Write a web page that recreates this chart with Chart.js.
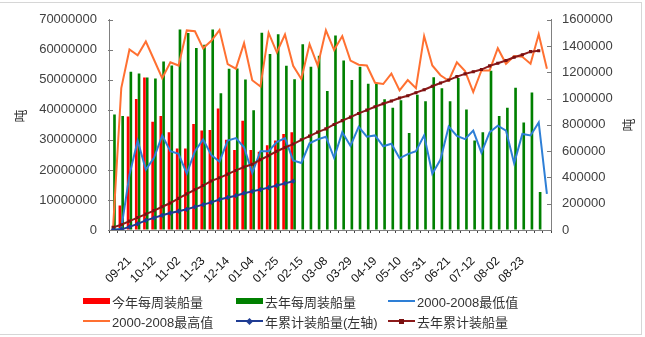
<!DOCTYPE html>
<html>
<head>
<meta charset="utf-8">
<script src="https://cdn.jsdelivr.net/npm/chart.js@4"></script>
<style>
  html, body { margin: 0; padding: 0; background: #fff; }
  #wrap { position: relative; width: 645px; height: 337px; overflow: hidden; }
  #frame { position: absolute; left: -1px; top: 2px; width: 643px; height: 333px; box-sizing: border-box; border: 1px solid #d6d6d6; pointer-events: none; }
  #c { position: absolute; left: 0; top: 0; }
  .lg { position: absolute; height: 16px; display: flex; align-items: center; white-space: nowrap;
        font: 13px 'Liberation Sans', 'Noto Sans CJK SC', sans-serif; color: #333; }
  .sw { position: relative; width: 27px; margin-right: 2px; flex: none; }
  .mk { position: absolute; left: 11px; width: 5px; height: 5px; }
</style>
</head>
<body>
<div id="wrap">
  <canvas id="c" width="645" height="337"></canvas>
  <div id="frame"></div>
</div>
<script>
// Week-ending dates (month-day), one category per week
const weeks = ['09-07','09-14','09-21','09-28','10-05','10-12','10-19','10-26','11-02','11-09',
  '11-16','11-23','11-30','12-07','12-14','12-21','12-28','01-04','01-11','01-18',
  '01-25','02-01','02-08','02-15','02-22','03-01','03-08','03-15','03-22','03-29',
  '04-05','04-12','04-19','04-26','05-03','05-10','05-17','05-24','05-31','06-07',
  '06-14','06-21','06-28','07-05','07-12','07-19','07-26','08-02','08-09','08-16',
  '08-23','08-30','09-06','09-13'];

// Weekly shipments, tonnes (right axis)
const thisYearWeekly = [null, 186000, 863000, 997000, 1161000, 824000, 868000, 744000, 620000, 620000,
  806000, 757000, 761000, 925000, 687000, 608000, 831000, 608000, 595000, 645000,
  682000, 731000, 744000];

const lastYearWeekly = [880000, 868000, 1205000, 1191000, 1161000, 1153000, 1282000, 1252000, 1526000, 1500000,
  1385000, 1410000, 1526000, 1040000, 1228000, 1230000, 1145000, 912000, 1501000, 1340000,
  1490000, 1250000, 1147000, 1414000, 1243000, 1327000, 1058000, 1480000, 1290000, 1141000,
  1243000, 1113000, 1116000, 995000, 930000, 987000, 739000, 1030000, 980000, 1163000,
  1079000, 980000, 1157000, 918000, 682000, 744000, 1213000, 868000, 930000, 1083000,
  819000, 1047000, 289000];

// 2000-2008 weekly range, tonnes (right axis)
const minWeekly = [0, 10000, 420000, 680000, 460000, 550000, 720000, 600000, 580000, 430000,
  600000, 690000, 570000, 520000, 680000, 700000, 630000, 434000, 600000, 600000,
  670000, 700000, 530000, 510000, 660000, 690000, 710000, 550000, 744000, 640000,
  785000, 710000, 720000, 637000, 657000, 546000, 578000, 600000, 720000, 428000,
  536000, 788000, 717000, 692000, 757000, 589000, 744000, 794000, 757000, 508000,
  731000, 720000, 819000, 275000];

const maxWeekly = [20000, 1080000, 1374000, 1330000, 1435000, 1296000, 1155000, 1277000, 1252000, 1519000,
  1513000, 1383000, 1440000, 1522000, 1262000, 1228000, 1422000, 1140000, 1092000, 1501000,
  1352000, 1488000, 1250000, 1150000, 1414000, 1252000, 1520000, 1370000, 1476000, 1290000,
  1258000, 1252000, 1121000, 1111000, 1191000, 1062000, 1141000, 1079000, 1476000, 1252000,
  1178000, 1136000, 1277000, 1210000, 1050000, 1215000, 1215000, 1384000, 1265000, 1325000,
  1318000, 1265000, 1490000, 1228000];

// Year-to-date shipments, tonnes (left axis)
const thisYearCum = [0, 186000, 1049000, 2046000, 3207000, 4031000, 4899000, 5643000, 6263000, 6883000,
  7689000, 8446000, 9207000, 10132000, 10819000, 11427000, 12258000, 12866000, 13461000, 14106000,
  14788000, 15519000, 16263000];

const lastYearCum = [880000, 1748000, 2953000, 4144000, 5305000, 6458000, 7740000, 8992000, 10518000, 12018000,
  13403000, 14813000, 16339000, 17379000, 18607000, 19837000, 20982000, 21894000, 23395000, 24735000,
  26225000, 27475000, 28622000, 30036000, 31279000, 32606000, 33664000, 35144000, 36434000, 37575000,
  38818000, 39931000, 41047000, 42042000, 42972000, 43959000, 44698000, 45728000, 46708000, 47871000,
  48950000, 49930000, 51087000, 52005000, 52687000, 53431000, 54644000, 55512000, 56442000, 57525000,
  58344000, 59391000, 59680000];

// Axis tick values; date labels are shown every third week from 09-21 to 08-23
const leftTicks = [0, 10000000, 20000000, 30000000, 40000000, 50000000, 60000000, 70000000];
const rightTicks = [0, 200000, 400000, 600000, 800000, 1000000, 1200000, 1400000, 1600000];
const shownWeeks = ['09-21','10-12','11-02','11-23','12-14','01-04','01-25','02-15','03-08',
  '03-29','04-19','05-10','05-31','06-21','07-12','08-02','08-23'];
const unitLabel = '吨';

const FONT = "'Liberation Sans', 'Noto Sans CJK SC', sans-serif";
Chart.defaults.font.family = FONT;

// short inward tick marks on both value axes
const innerTicks = {
  id: 'innerTicks',
  afterDatasetsDraw(chart) {
    const { ctx, chartArea } = chart;
    ctx.save();
    ctx.strokeStyle = '#7a7a7a';
    ctx.lineWidth = 1;
    [['yL', chartArea.left, 1], ['yR', chartArea.right, -1]].forEach(([id, x, dir]) => {
      const s = chart.scales[id];
      s.ticks.forEach(t => {
        const y = Math.round(s.getPixelForValue(t.value)) + 0.5;
        ctx.beginPath();
        ctx.moveTo(x - dir, y);
        ctx.lineTo(x + dir * 4, y);
        ctx.stroke();
      });
    });
    ctx.restore();
  }
};

// unit captions beside both value axes
const axisTitles = {
  id: 'axisTitles',
  afterDraw(chart) {
    const { ctx, chartArea } = chart;
    ctx.save();
    ctx.font = "13px 'Noto Sans CJK SC'";
    ctx.fillStyle = '#333';
    ctx.textAlign = 'center';
    ctx.textBaseline = 'middle';
    [[chartArea.left - 89, 116], [chartArea.right + 77, 125]].forEach(([x, y]) => {
      ctx.save();
      ctx.translate(x, y);
      ctx.rotate(-Math.PI / 2);
      ctx.fillText(unitLabel, 0, 0);
      ctx.restore();
    });
    ctx.restore();
  }
};

const barOpts = { categoryPercentage: 0.68, barPercentage: 0.95, borderWidth: 0, yAxisID: 'yR', order: 10 };

const chart = new Chart(document.getElementById('c'), {
  type: 'bar',
  data: {
    labels: weeks,
    datasets: [
      Object.assign({ type: 'bar', label: '今年每周装船量', data: thisYearWeekly, backgroundColor: '#ff0000' }, barOpts),
      Object.assign({ type: 'bar', label: '去年每周装船量', data: lastYearWeekly, backgroundColor: '#008000' }, barOpts),
      { type: 'line', label: '2000-2008最低值', data: minWeekly, borderColor: '#2e7fd6', borderWidth: 2,
        pointRadius: 0, tension: 0, yAxisID: 'yR', order: 4 },
      { type: 'line', label: '2000-2008最高值', data: maxWeekly, borderColor: '#ff7031', borderWidth: 2,
        pointRadius: 0, tension: 0, yAxisID: 'yR', order: 4 },
      { type: 'line', label: '年累计装船量(左轴)', data: thisYearCum, borderColor: '#1f3c93', borderWidth: 2,
        pointStyle: 'rectRot', pointRadius: 2.6, pointBorderWidth: 0, pointBackgroundColor: '#1f3c93',
        tension: 0, yAxisID: 'yL', order: 1 },
      { type: 'line', label: '去年累计装船量', data: lastYearCum, borderColor: '#8c1a1a', borderWidth: 2,
        pointStyle: 'rect', pointRadius: 2.2, pointBorderWidth: 0, pointBackgroundColor: '#7a1010',
        tension: 0, yAxisID: 'yL', order: 2 }
    ]
  },
  options: {
    responsive: false,
    animation: false,
    devicePixelRatio: 1,
    layout: { padding: { top: 15, left: 0, right: 0, bottom: 0 } },
    plugins: { legend: { display: false }, tooltip: { enabled: false } },
    scales: {
      x: {
        offset: true,
        grid: { display: true, offset: true, drawOnChartArea: false, drawTicks: true, tickLength: 3, color: '#444' },
        border: { display: true, color: '#808080' },
        ticks: {
          autoSkip: false, minRotation: 45, maxRotation: 45, padding: 21,
          color: '#111', font: { size: 12 },
          callback: function (v) {
            const lab = this.getLabelForValue(v);
            return shownWeeks.includes(lab) ? lab : '';
          }
        },
        afterFit: s => { s.height = 107; }
      },
      yL: {
        position: 'left',
        min: leftTicks[0], max: leftTicks[leftTicks.length - 1],
        afterBuildTicks: s => { s.ticks = leftTicks.map(v => ({ value: v })); },
        grid: { display: true, drawOnChartArea: false, drawTicks: false },
        border: { display: true, color: '#808080' },
        ticks: { padding: 12, color: '#404040', font: { size: 13 }, callback: v => String(v) },
        afterFit: s => { s.width = 109; }
      },
      yR: {
        position: 'right',
        min: rightTicks[0], max: rightTicks[rightTicks.length - 1],
        afterBuildTicks: s => { s.ticks = rightTicks.map(v => ({ value: v })); },
        grid: { display: true, drawOnChartArea: false, drawTicks: false },
        border: { display: true, color: '#808080' },
        ticks: { padding: 11, color: '#404040', font: { size: 13 }, callback: v => String(v) },
        afterFit: s => { s.width = 94; }
      }
    }
  },
  plugins: [innerTicks, axisTitles]
});

// two-row legend in three aligned columns
const legendSlots = [[83, 301], [236, 301], [388, 301], [83, 321], [236, 321], [388, 321]];
const wrap = document.getElementById('wrap');
chart.data.datasets.forEach((ds, i) => {
  const [x, y] = legendSlots[i];
  const item = document.createElement('div');
  item.className = 'lg';
  item.style.left = x + 'px';
  item.style.top = (y - 8) + 'px';
  const sw = document.createElement('span');
  sw.className = 'sw';
  if (ds.type === 'bar') {
    sw.style.height = '6px';
    sw.style.background = ds.backgroundColor;
  } else {
    sw.style.height = '2px';
    sw.style.background = ds.borderColor;
    if (ds.pointRadius > 0) {
      const mk = document.createElement('span');
      mk.className = 'mk';
      mk.style.top = '-1.5px';
      mk.style.background = ds.pointBackgroundColor;
      if (ds.pointStyle === 'rectRot') mk.style.transform = 'rotate(45deg)';
      sw.appendChild(mk);
    }
  }
  const tx = document.createElement('span');
  tx.textContent = ds.label;
  item.appendChild(sw);
  item.appendChild(tx);
  wrap.appendChild(item);
});
</script>
</body>
</html>
